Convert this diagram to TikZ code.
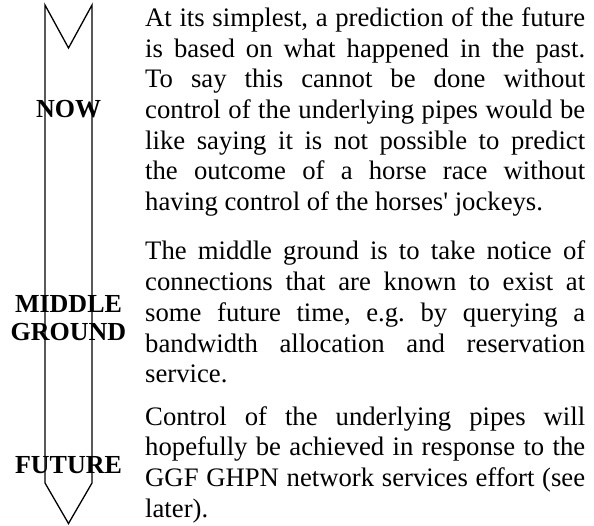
\documentclass[tikz,border=0pt]{standalone}
\usepackage{fontspec}
\setmainfont{Liberation Serif}[Ligatures=TeXOff]
\frenchspacing
\tikzset{
  txt/.style={anchor=base west, inner sep=0pt, font=\fontsize{26.7pt}{30.7pt}\selectfont},
  lbl/.style={anchor=base, inner sep=0pt, font=\fontsize{26pt}{28pt}\selectfont\bfseries},
  arrowline/.style={line width=1.3pt, line join=miter, black}
}
\newcommand{\jl}[1]{\makebox[440pt][s]{#1}}
\begin{document}
\begin{tikzpicture}[x=1pt,y=-1pt]
\useasboundingbox (0,0) rectangle (594,526);
% arrow
\draw[arrowline] (45,5) -- (68.5,48) -- (92,5) -- (92,483) -- (68.5,523.5) -- (45,483) -- cycle;
% labels
\node[lbl] (now) at (68.5,118) {NOW};
\node[lbl] (middle) at (68.5,313) {MIDDLE};
\node[lbl] (ground) at (68.5,341) {GROUND};
\node[lbl] (future) at (68.5,473) {FUTURE};
% paragraph 1
\node[txt] (a1) at (145,26.5) {\jl{At its simplest, a prediction of the future}};
\node[txt] (a2) at (145,57.2) {\jl{is based on what happened in the past.}};
\node[txt] (a3) at (145,87.9) {\jl{To say this cannot be done without}};
\node[txt] (a4) at (145,118.6) {\jl{control of the underlying pipes would be}};
\node[txt] (a5) at (145,149.3) {\jl{like saying it is not possible to predict}};
\node[txt] (a6) at (145,180.0) {\jl{the outcome of a horse race without}};
\node[txt] (a7) at (145,210.7) {having control of the horses' jockeys.};
% paragraph 2
\node[txt] (b1) at (145,260.0) {\jl{The middle ground is to take notice of}};
\node[txt] (b2) at (145,290.7) {\jl{connections that are known to exist at}};
\node[txt] (b3) at (145,321.4) {\jl{some future time, e.g. by querying a}};
\node[txt] (b4) at (145,352.1) {\jl{bandwidth allocation and reservation}};
\node[txt] (b5) at (145,382.8) {service.};
% paragraph 3
\node[txt] (c1) at (145,425.0) {\jl{Control of the underlying pipes will}};
\node[txt] (c2) at (145,455.7) {\jl{hopefully be achieved in response to the}};
\node[txt] (c3) at (145,486.4) {\jl{GGF GHPN network services effort (see}};
\node[txt] (c4) at (145,517.1) {later).};
\end{tikzpicture}
\end{document}
